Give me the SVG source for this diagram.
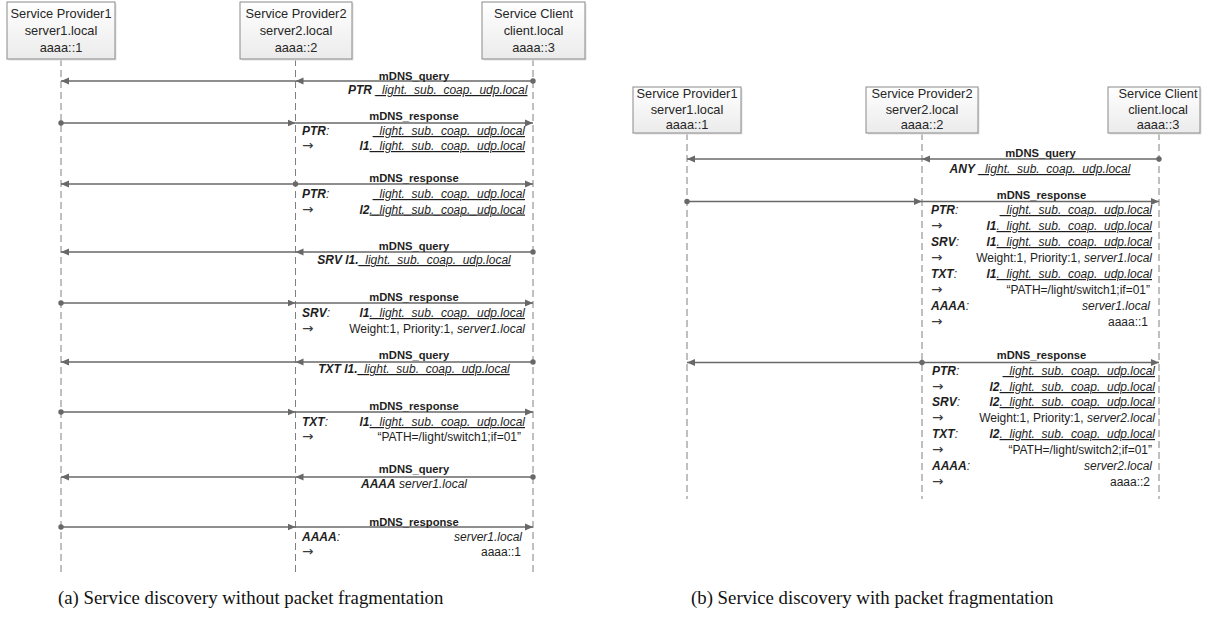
<svg xmlns="http://www.w3.org/2000/svg" width="1208" height="632" viewBox="0 0 1208 632">
<style>
.box{fill:url(#boxg);stroke:#8a8a8a;stroke-width:1}
.shd{fill:#e2e2e2}
.hdr{font-family:"Liberation Sans",Arial,sans-serif;font-size:12.8px;fill:#262626;text-anchor:middle}
.life{stroke:#808080;stroke-width:1;stroke-dasharray:7 4;fill:none}
.msg{stroke:#686868;stroke-width:1.3;fill:none}
.dm{marker-start:url(#dot)}
.am{marker-end:url(#arr)}
.lbl{font-family:"Liberation Sans",Arial,sans-serif;font-size:11.2px;font-weight:bold;text-anchor:middle;fill:#1e1e1e}
.t{font-family:"Liberation Sans",Arial,sans-serif;font-size:12px;fill:#1e1e1e}
.ar{font-family:"DejaVu Sans",sans-serif;font-size:13.5px;fill:#3a3a3a}
.c{text-anchor:middle}
.e{text-anchor:end}
.b{font-weight:bold;font-style:italic}
.i{font-style:italic}
.u{font-style:italic;text-decoration:underline}
.cap{font-family:"Liberation Serif","Times New Roman",serif;font-size:18.8px;fill:#111}
</style>
<defs>
<linearGradient id="boxg" x1="0" y1="0" x2="0" y2="1">
<stop offset="0" stop-color="#ffffff"/>
<stop offset="1" stop-color="#ebebeb"/>
</linearGradient>
<marker id="arr" markerWidth="9" markerHeight="8" refX="8" refY="4" orient="auto" markerUnits="userSpaceOnUse"><path d="M0,0.6 L8,4 L0,7.4 z" fill="#686868"/></marker>
<marker id="dot" markerWidth="7" markerHeight="7" refX="3.5" refY="3.5" markerUnits="userSpaceOnUse"><circle cx="3.5" cy="3.5" r="2.7" fill="#686868"/></marker>
</defs>
<rect width="1208" height="632" fill="#ffffff"/>

<!-- ===== Diagram (a) ===== -->
<g id="a-lifelines">
<line class="life" x1="61" y1="59" x2="61" y2="572"/>
<line class="life" x1="295.5" y1="59" x2="295.5" y2="574"/>
<line class="life" x1="533" y1="59" x2="533" y2="574"/>
</g>
<g id="a-node-provider1">
<rect class="shd" x="8.5" y="3.5" width="108" height="57"/>
<rect class="box" x="7" y="2" width="108" height="57"/>
<text class="hdr" x="61" y="17.5">Service Provider1</text>
<text class="hdr" x="61" y="34.5">server1.local</text>
<text class="hdr" x="61" y="51.5">aaaa::1</text>
</g>
<g id="a-node-provider2">
<rect class="shd" x="241.5" y="3.5" width="112" height="57"/>
<rect class="box" x="240" y="2" width="112" height="57"/>
<text class="hdr" x="296" y="17.5">Service Provider2</text>
<text class="hdr" x="296" y="34.5">server2.local</text>
<text class="hdr" x="296" y="51.5">aaaa::2</text>
</g>
<g id="a-node-client">
<rect class="shd" x="483.5" y="3.5" width="103" height="57"/>
<rect class="box" x="482" y="2" width="103" height="57"/>
<text class="hdr" x="533.5" y="17.5">Service Client</text>
<text class="hdr" x="533.5" y="34.5">client.local</text>
<text class="hdr" x="533.5" y="51.5">aaaa::3</text>
</g>

<g id="a-connectors">
<path class="msg dm am" d="M533,81 L295.5,81"/><path class="msg am" d="M295.5,81 L61,81"/>
<path class="msg dm am" d="M61,123 L295.5,123"/><path class="msg am" d="M295.5,123 L533,123"/>
<path class="msg dm am" d="M295.5,184 L61,184"/><path class="msg am" d="M295.5,184 L533,184"/>
<path class="msg dm am" d="M533,252 L295.5,252"/><path class="msg am" d="M295.5,252 L61,252"/>
<path class="msg dm am" d="M61,303 L295.5,303"/><path class="msg am" d="M295.5,303 L533,303"/>
<path class="msg dm am" d="M533,362 L295.5,362"/><path class="msg am" d="M295.5,362 L61,362"/>
<path class="msg dm am" d="M61,412 L295.5,412"/><path class="msg am" d="M295.5,412 L533,412"/>
<path class="msg dm am" d="M533,477 L295.5,477"/><path class="msg am" d="M295.5,477 L61,477"/>
<path class="msg dm am" d="M61,527 L295.5,527"/><path class="msg am" d="M295.5,527 L533,527"/>
</g>

<g id="a-labels">
<!-- 1 -->
<text class="lbl" x="414" y="80">mDNS_query</text>
<text class="t" x="348" y="94"><tspan class="b">PTR</tspan> <tspan class="u">_light._sub._coap._udp.local</tspan></text>
<!-- 2 -->
<text class="lbl" x="414" y="120">mDNS_response</text>
<text class="t" x="302" y="135"><tspan class="b">PTR</tspan><tspan class="i">:</tspan></text>
<text class="t e" x="525" y="135"><tspan class="u">_light._sub._coap._udp.local</tspan></text>
<text class="ar" x="302" y="150">→</text>
<text class="t e" x="525" y="150"><tspan class="b">l1</tspan><tspan class="u">._light._sub._coap._udp.local</tspan></text>
<!-- 3 -->
<text class="lbl" x="414" y="182">mDNS_response</text>
<text class="t" x="302" y="198"><tspan class="b">PTR</tspan><tspan class="i">:</tspan></text>
<text class="t e" x="525" y="198"><tspan class="u">_light._sub._coap._udp.local</tspan></text>
<text class="ar" x="302" y="213.5">→</text>
<text class="t e" x="525" y="213.5"><tspan class="b">l2</tspan><tspan class="u">._light._sub._coap._udp.local</tspan></text>
<!-- 4 -->
<text class="lbl" x="414" y="250">mDNS_query</text>
<text class="t c" x="414" y="264"><tspan class="b">SRV l1.</tspan><tspan class="u">_light._sub._coap._udp.local</tspan></text>
<!-- 5 -->
<text class="lbl" x="414" y="301">mDNS_response</text>
<text class="t" x="302" y="317"><tspan class="b">SRV</tspan><tspan class="i">:</tspan></text>
<text class="t e" x="525" y="317"><tspan class="b">l1</tspan><tspan class="u">._light._sub._coap._udp.local</tspan></text>
<text class="ar" x="302" y="333">→</text>
<text class="t e" x="525" y="333">Weight:1, Priority:1, <tspan class="i">server1.local</tspan></text>
<!-- 6 -->
<text class="lbl" x="414" y="359">mDNS_query</text>
<text class="t c" x="414" y="373"><tspan class="b">TXT l1.</tspan><tspan class="u">_light._sub._coap._udp.local</tspan></text>
<!-- 7 -->
<text class="lbl" x="414" y="410">mDNS_response</text>
<text class="t" x="302" y="426"><tspan class="b">TXT</tspan><tspan class="i">:</tspan></text>
<text class="t e" x="525" y="426"><tspan class="b">l1</tspan><tspan class="u">._light._sub._coap._udp.local</tspan></text>
<text class="ar" x="302" y="441">→</text>
<text class="t e" x="521" y="441">“PATH=/light/switch1;if=01”</text>
<!-- 8 -->
<text class="lbl" x="414" y="473">mDNS_query</text>
<text class="t c" x="414" y="488"><tspan class="b">AAAA</tspan> <tspan class="i">server1.local</tspan></text>
<!-- 9 -->
<text class="lbl" x="414" y="526">mDNS_response</text>
<text class="t" x="302" y="541"><tspan class="b">AAAA</tspan><tspan class="i">:</tspan></text>
<text class="t e" x="522" y="541"><tspan class="i">server1.local</tspan></text>
<text class="ar" x="302" y="556">→</text>
<text class="t e" x="521" y="556">aaaa::1</text>
</g>

<!-- ===== Diagram (b) ===== -->
<g id="b-lifelines">
<line class="life" x1="687" y1="133" x2="687" y2="499"/>
<line class="life" x1="922" y1="133" x2="922" y2="499"/>
<line class="life" x1="1159" y1="133" x2="1159" y2="499"/>
</g>
<g id="b-node-provider1">
<rect class="shd" x="634.5" y="88.5" width="108" height="46"/>
<rect class="box" x="633" y="87" width="108" height="46"/>
<text class="hdr" x="687" y="98">Service Provider1</text>
<text class="hdr" x="687" y="113.5">server1.local</text>
<text class="hdr" x="687" y="129">aaaa::1</text>
</g>
<g id="b-node-provider2">
<rect class="shd" x="867.5" y="88.5" width="112" height="46"/>
<rect class="box" x="866" y="87" width="112" height="46"/>
<text class="hdr" x="922" y="98">Service Provider2</text>
<text class="hdr" x="922" y="113.5">server2.local</text>
<text class="hdr" x="922" y="129">aaaa::2</text>
</g>
<g id="b-node-client">
<rect class="shd" x="1109.5" y="88.5" width="92" height="46"/>
<rect class="box" x="1108" y="87" width="92" height="46"/>
<text class="hdr" x="1158" y="98">Service Client</text>
<text class="hdr" x="1158" y="113.5">client.local</text>
<text class="hdr" x="1158" y="129">aaaa::3</text>
</g>

<g id="b-connectors">
<path class="msg dm am" d="M1159,159 L922,159"/><path class="msg am" d="M922,159 L687,159"/>
<path class="msg dm am" d="M687,201.5 L922,201.5"/><path class="msg am" d="M922,201.5 L1159,201.5"/>
<path class="msg dm am" d="M922,362.5 L687,362.5"/><path class="msg am" d="M922,362.5 L1159,362.5"/>
</g>

<g id="b-labels">
<text class="lbl" x="1040.5" y="157">mDNS_query</text>
<text class="t c" x="1040" y="173"><tspan class="b">ANY</tspan> <tspan class="u">_light._sub._coap._udp.local</tspan></text>

<text class="lbl" x="1041.5" y="199">mDNS_response</text>
<text class="t" x="931" y="214"><tspan class="b">PTR</tspan><tspan class="i">:</tspan></text>
<text class="t e" x="1152" y="214"><tspan class="u">_light._sub._coap._udp.local</tspan></text>
<text class="ar" x="931" y="230">→</text>
<text class="t e" x="1152" y="230"><tspan class="b">l1</tspan><tspan class="u">._light._sub._coap._udp.local</tspan></text>
<text class="t" x="931" y="246"><tspan class="b">SRV</tspan><tspan class="i">:</tspan></text>
<text class="t e" x="1152" y="246"><tspan class="b">l1</tspan><tspan class="u">._light._sub._coap._udp.local</tspan></text>
<text class="ar" x="931" y="262">→</text>
<text class="t e" x="1152" y="262">Weight:1, Priority:1, <tspan class="i">server1.local</tspan></text>
<text class="t" x="931" y="278"><tspan class="b">TXT</tspan><tspan class="i">:</tspan></text>
<text class="t e" x="1152" y="278"><tspan class="b">l1</tspan><tspan class="u">._light._sub._coap._udp.local</tspan></text>
<text class="ar" x="931" y="294">→</text>
<text class="t e" x="1150" y="294">“PATH=/light/switch1;if=01”</text>
<text class="t" x="931" y="310"><tspan class="b">AAAA</tspan><tspan class="i">:</tspan></text>
<text class="t e" x="1150" y="310"><tspan class="i">server1.local</tspan></text>
<text class="ar" x="931" y="326">→</text>
<text class="t e" x="1148" y="326">aaaa::1</text>

<text class="lbl" x="1041.5" y="359">mDNS_response</text>
<text class="t" x="932" y="375"><tspan class="b">PTR</tspan><tspan class="i">:</tspan></text>
<text class="t e" x="1155" y="375"><tspan class="u">_light._sub._coap._udp.local</tspan></text>
<text class="ar" x="932" y="391">→</text>
<text class="t e" x="1155" y="391"><tspan class="b">l2</tspan><tspan class="u">._light._sub._coap._udp.local</tspan></text>
<text class="t" x="932" y="406"><tspan class="b">SRV</tspan><tspan class="i">:</tspan></text>
<text class="t e" x="1155" y="406"><tspan class="b">l2</tspan><tspan class="u">._light._sub._coap._udp.local</tspan></text>
<text class="ar" x="932" y="422">→</text>
<text class="t e" x="1155" y="422">Weight:1, Priority:1, <tspan class="i">server2.local</tspan></text>
<text class="t" x="932" y="438"><tspan class="b">TXT</tspan><tspan class="i">:</tspan></text>
<text class="t e" x="1155" y="438"><tspan class="b">l2</tspan><tspan class="u">._light._sub._coap._udp.local</tspan></text>
<text class="ar" x="932" y="454">→</text>
<text class="t e" x="1152" y="454">“PATH=/light/switch2;if=01”</text>
<text class="t" x="932" y="470"><tspan class="b">AAAA</tspan><tspan class="i">:</tspan></text>
<text class="t e" x="1152" y="470"><tspan class="i">server2.local</tspan></text>
<text class="ar" x="932" y="486">→</text>
<text class="t e" x="1150" y="486">aaaa::2</text>
</g>

<g id="captions">
<text class="cap" x="58" y="604">(a) Service discovery without packet fragmentation</text>
<text class="cap" x="691" y="604">(b) Service discovery with packet fragmentation</text>
</g>
</svg>
